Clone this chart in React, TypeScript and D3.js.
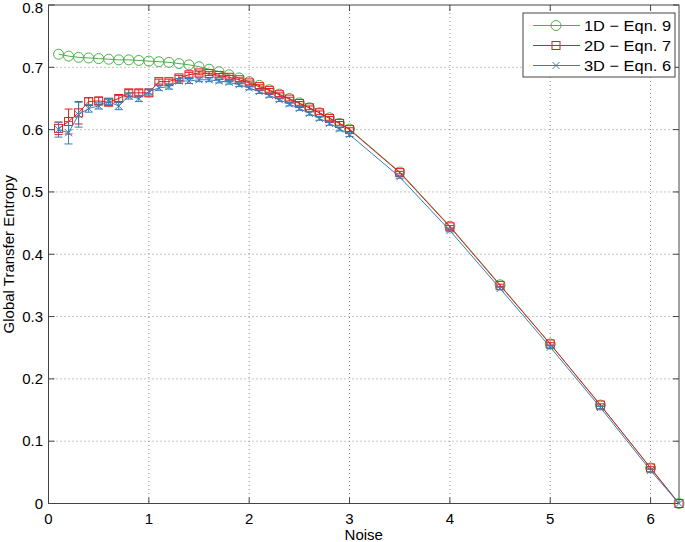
import React from "react";
import * as d3 from "d3";

const xs: number[] = [
  0.1, 0.2, 0.3, 0.4, 0.5, 0.6, 0.7, 0.8, 0.9, 1.0,
  1.1, 1.2, 1.3, 1.4, 1.5, 1.6, 1.7, 1.8, 1.9, 2.0,
  2.1, 2.2, 2.3, 2.4, 2.5, 2.6, 2.7, 2.8, 2.9, 3.0,
  3.5, 4.0, 4.5, 5.0, 5.5, 6.0, 6.2832,
];

const te1D: number[] = [
  0.721, 0.718, 0.716, 0.715, 0.714, 0.713, 0.712, 0.712, 0.711, 0.710,
  0.709, 0.708, 0.706, 0.704, 0.701, 0.697, 0.693, 0.688, 0.683, 0.677,
  0.671, 0.664, 0.657, 0.650, 0.643, 0.635, 0.627, 0.619, 0.610, 0.601,
  0.532, 0.445, 0.351, 0.256, 0.158, 0.057, 0.0,
];

const te2D: number[] = [
  0.602, 0.613, 0.627, 0.645, 0.646, 0.644, 0.650, 0.659, 0.659, 0.659,
  0.677, 0.677, 0.683, 0.688, 0.691, 0.690, 0.687, 0.684, 0.680, 0.675,
  0.669, 0.663, 0.656, 0.649, 0.642, 0.635, 0.627, 0.618, 0.610, 0.600,
  0.531, 0.444, 0.350, 0.256, 0.158, 0.057, 0.0,
];

const err2D: number[] = [
  0.010, 0.020, 0.018, 0.006, 0.006, 0.005, 0.005, 0.005, 0.005, 0.005,
  0.004, 0.004, 0.004, 0.004, 0.003, 0.003, 0.003, 0.003, 0.003, 0.003,
  0.003, 0.003, 0.003, 0.003, 0.003, 0.003, 0.003, 0.003, 0.003, 0.003,
  0.002, 0.002, 0.002, 0.002, 0.002, 0.002, 0.0,
];

const te3D: number[] = [
  0.600, 0.595, 0.624, 0.634, 0.638, 0.645, 0.638, 0.654, 0.650, 0.661,
  0.667, 0.669, 0.678, 0.678, 0.680, 0.680, 0.678, 0.676, 0.672, 0.667,
  0.661, 0.655, 0.648, 0.641, 0.634, 0.626, 0.618, 0.610, 0.601, 0.592,
  0.524, 0.438, 0.345, 0.251, 0.154, 0.053, 0.0,
];

const err3D: number[] = [
  0.012, 0.018, 0.020, 0.006, 0.005, 0.005, 0.006, 0.005, 0.005, 0.004,
  0.004, 0.004, 0.004, 0.004, 0.003, 0.003, 0.003, 0.003, 0.003, 0.003,
  0.003, 0.003, 0.003, 0.003, 0.003, 0.003, 0.003, 0.003, 0.003, 0.003,
  0.002, 0.002, 0.002, 0.002, 0.002, 0.002, 0.0,
];

const xTicks: number[] = [0, 1, 2, 3, 4, 5, 6];
const yTicks: number[] = [0, 0.1, 0.2, 0.3, 0.4, 0.5, 0.6, 0.7, 0.8];
const legendLabels: string[] = ["1D \u2212 Eqn. 9", "2D \u2212 Eqn. 7", "3D \u2212 Eqn. 6"];

const GREEN = "#4daf4a";
const RED = "#e41a1c";
const BLUE = "#377eb8";
const FONT = "Liberation Sans, Arial, sans-serif";

export default function App() {
  const W = 685, H = 542;
  const L = 48.5, R = 679, T = 5, B = 503.5;
  const x = d3.scaleLinear().domain([0, 2 * Math.PI]).range([L, R]);
  const y = d3.scaleLinear().domain([0, 0.8]).range([B, T]);
  const line = d3.line<[number, number]>().x((d) => x(d[0])).y((d) => y(d[1]));
  const pts = (v: number[]) => xs.map((xx, i) => [xx, v[i]] as [number, number]);

  const axisColor = "#444";
  const tickLen = 6;

  const circle = (cx: number, cy: number, key: any) => (
    <circle key={key} cx={cx} cy={cy} r={5} fill="none" stroke={GREEN} strokeWidth={1} />
  );
  const square = (cx: number, cy: number, key: any) => (
    <rect key={key} x={cx - 4} y={cy - 4} width={8} height={8} fill="none" stroke={RED} strokeWidth={1} />
  );
  const cross = (cx: number, cy: number, key: any) => (
    <path key={key} d={`M${cx - 3.5},${cy - 3.5}L${cx + 3.5},${cy + 3.5}M${cx - 3.5},${cy + 3.5}L${cx + 3.5},${cy - 3.5}`} stroke={BLUE} strokeWidth={1} fill="none" />
  );

  const errBars = (v: number[], e: number[], color: string) =>
    xs.map((xx, i) => {
      if (e[i] <= 0) return null;
      const cx = x(xx);
      const y1 = y(v[i] + e[i]);
      const y2 = y(v[i] - e[i]);
      return (
        <path key={i} d={`M${cx},${y1}L${cx},${y2}M${cx - 4},${y1}L${cx + 4},${y1}M${cx - 4},${y2}L${cx + 4},${y2}`} stroke={color} strokeWidth={1} fill="none" />
      );
    });

  const legX = 523, legY = 13, legW = 152, legH = 64;
  const legRows = [25.5, 45.5, 65.5];

  return (
    <svg width={W} height={H} style={{ position: "absolute", left: 0, top: 0, background: "#fff" }}>
      <rect x={0} y={0} width={W} height={H} fill="#fff" />
      {/* grid */}
      <g stroke="#8a8a8a" strokeWidth={1} strokeDasharray="1,3">
        {xTicks.filter((t) => t > 0).map((t) => (
          <line key={"gx" + t} x1={x(t)} x2={x(t)} y1={T} y2={B} />
        ))}
        {yTicks.filter((t) => t > 0 && t < 0.8).map((t) => (
          <line key={"gy" + t} x1={L} x2={R} y1={y(t)} y2={y(t)} />
        ))}
      </g>
      {/* box */}
      <rect x={L} y={T} width={R - L} height={B - T} fill="none" stroke={axisColor} strokeWidth={1} />
      {/* ticks */}
      <g stroke={axisColor} strokeWidth={1}>
        {xTicks.map((t) => (
          <g key={"tx" + t}>
            <line x1={x(t)} x2={x(t)} y1={B} y2={B - tickLen} />
            <line x1={x(t)} x2={x(t)} y1={T} y2={T + tickLen} />
          </g>
        ))}
        {yTicks.map((t) => (
          <g key={"ty" + t}>
            <line x1={L} x2={L + tickLen} y1={y(t)} y2={y(t)} />
            <line x1={R} x2={R - tickLen} y1={y(t)} y2={y(t)} />
          </g>
        ))}
      </g>
      {/* tick labels */}
      <g fontFamily={FONT} fontSize={15} fill="#000">
        {xTicks.map((t) => (
          <text key={"lx" + t} x={x(t)} y={B + 20.5} textAnchor="middle">{t}</text>
        ))}
        {yTicks.map((t) => (
          <text key={"ly" + t} x={L - 5.5} y={Math.max(y(t) + 5.3, 12.5)} textAnchor="end">{t === 0 ? "0" : t.toFixed(1)}</text>
        ))}
        <text x={(L + R) / 2} y={540} textAnchor="middle">Noise</text>
        <text transform={`translate(13.5,${(T + B) / 2}) rotate(-90)`} textAnchor="middle">Global Transfer Entropy</text>
      </g>
      {/* series */}
      <path d={line(pts(te1D)) || ""} fill="none" stroke={GREEN} strokeWidth={1} />
      {xs.map((xx, i) => circle(x(xx), y(te1D[i]), "c" + i))}
      <path d={line(pts(te2D)) || ""} fill="none" stroke={RED} strokeWidth={1} />
      {errBars(te2D, err2D, RED)}
      {xs.map((xx, i) => square(x(xx), y(te2D[i]), "s" + i))}
      <path d={line(pts(te3D)) || ""} fill="none" stroke={BLUE} strokeWidth={1} />
      {errBars(te3D, err3D, BLUE)}
      {xs.map((xx, i) => cross(x(xx), y(te3D[i]), "x" + i))}
      {/* legend */}
      <rect x={legX} y={legY} width={legW} height={legH} fill="#fff" stroke={axisColor} strokeWidth={1} />
      {[GREEN, RED, BLUE].map((c, i) => {
        const ly = legRows[i];
        const cx = 556;
        return (
          <g key={"leg" + i}>
            <line x1={533} x2={580} y1={ly} y2={ly} stroke={c} strokeWidth={1} />
            {i === 0 && circle(cx, ly, "lc")}
            {i === 1 && square(cx, ly, "ls")}
            {i === 2 && cross(cx, ly, "lx")}
            <text x={584} y={ly + 5.3} fontFamily={FONT} fontSize={15} fill="#000" textLength={87} lengthAdjust="spacingAndGlyphs">{legendLabels[i]}</text>
          </g>
        );
      })}
    </svg>
  );
}
